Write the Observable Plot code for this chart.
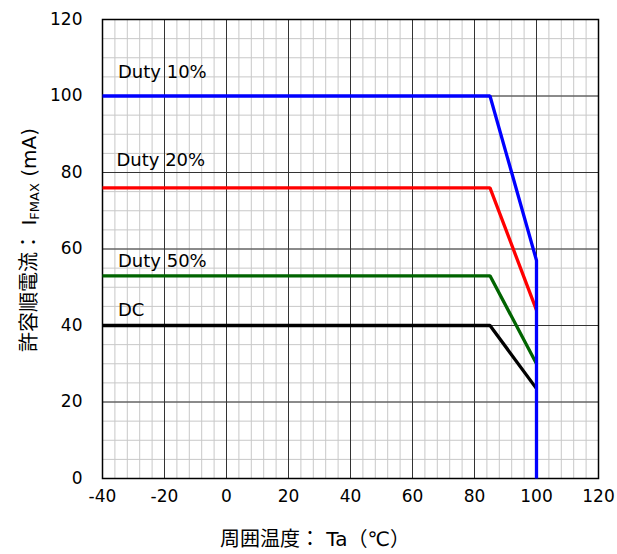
<!DOCTYPE html>
<html><head><meta charset="utf-8">
<script src="https://cdn.jsdelivr.net/npm/d3@7"></script>
<script src="https://cdn.jsdelivr.net/npm/@observablehq/plot@0.6"></script>
<style>body{margin:0;background:#fff}</style>
</head><body><div id="chart"></div>
<script>
// Data
const seriesNames = ["Duty 10%", "Duty 20%", "Duty 50%", "DC"];
const seriesColors = ["#0000ff", "#ff0000", "#006400", "#000000"];
const tempDuty10 = [-40, 85, 100, 100];
const currDuty10 = [100, 100, 57, 0];
const tempOther = [-40, 85, 100];
const currDuty20 = [76, 76, 44];
const currDuty50 = [53, 53, 30];
const currDC = [40, 40, 23.5];
const labelX = [-35, -35.5, -35, -35];
const labelY = [104.6, 81.7, 55.2, 42.4];
const xTicks = [-40, -20, 0, 20, 40, 60, 80, 100, 120];
const yTicks = [0, 20, 40, 60, 80, 100, 120];
const xMinor = d3.range(-40, 121, 4);
const yMinor = d3.range(0, 121, 5);

const rows = [];
const add = (name, xs, ys) => xs.forEach((x, i) => rows.push({name, x, y: ys[i]}));
add("DC", tempOther, currDC);
add("Duty 50%", tempOther, currDuty50);
add("Duty 20%", tempOther, currDuty20);
add("Duty 10%", tempDuty10, currDuty10);
const labels = seriesNames.map((name, i) => ({name, x: labelX[i], y: labelY[i]}));

const font = "'DejaVu Sans', 'Noto Sans CJK JP', sans-serif";
const chart = Plot.plot({
  width: 617, height: 554,
  marginLeft: 102, marginRight: 19, marginTop: 19, marginBottom: 76,
  style: {fontFamily: font, fontSize: "17px", color: "#000", background: "#fff"},
  x: {domain: [-40, 120], label: null},
  y: {domain: [0, 120], label: null},
  color: {domain: seriesNames, range: seriesColors},
  marks: [
    Plot.ruleX(xMinor, {stroke: "#c8c8c8", strokeWidth: 1}),
    Plot.ruleY(yMinor, {stroke: "#c8c8c8", strokeWidth: 1}),
    Plot.ruleX(xTicks, {stroke: "#333", strokeWidth: 1}),
    Plot.ruleY(yTicks, {stroke: "#333", strokeWidth: 1}),
    Plot.frame({stroke: "#000", strokeWidth: 1.5}),
    Plot.axisX({ticks: xTicks, tickSize: 0, tickPadding: 11, fontSize: 17, tickFormat: d => String(d), label: null}),
    Plot.axisY({ticks: yTicks, tickSize: 0, tickPadding: 20, fontSize: 17, tickFormat: d => String(d), label: null}),
    Plot.line(rows, {x: "x", y: "y", z: "name", stroke: "name", strokeWidth: 3.3, strokeLinejoin: "miter", strokeLinecap: "butt"}),
    Plot.text(labels, {x: "x", y: "y", text: "name", textAnchor: "start", lineAnchor: "bottom", fontSize: 18, fill: "#000"})
  ]
});
document.getElementById("chart").appendChild(chart);

const svg = d3.select(chart);
svg.append("text")
  .attr("x", 315).attr("y", 546)
  .attr("text-anchor", "middle")
  .attr("font-family", font).attr("font-size", 20).attr("fill", "#000")
  .text("周囲温度： Ta（℃）");

const yl = svg.append("text")
  .attr("transform", "translate(36,240) rotate(-90)")
  .attr("text-anchor", "middle")
  .attr("font-family", font).attr("font-size", 20).attr("fill", "#000");
yl.append("tspan").text("許容順電流： I");
yl.append("tspan").attr("font-size", 13).attr("dy", 3).text("FMAX");
yl.append("tspan").attr("dy", -3).text(" (mA)");
</script>
</body></html>
